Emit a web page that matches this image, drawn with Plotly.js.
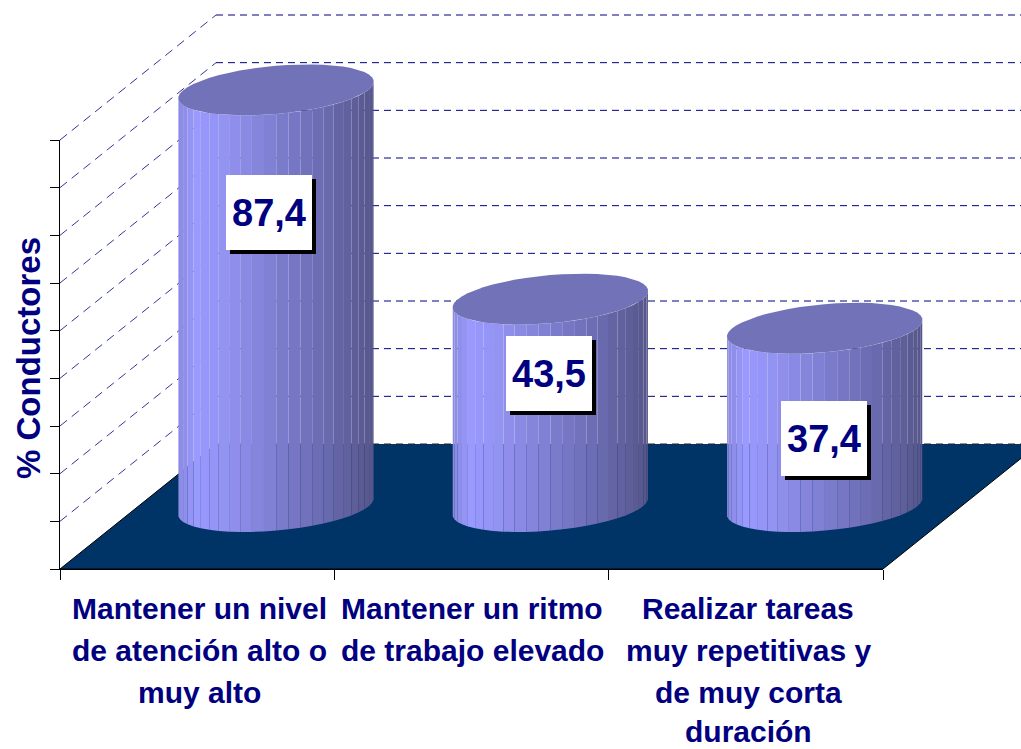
<!DOCTYPE html>
<html><head><meta charset="utf-8">
<script src="https://cdn.plot.ly/plotly-3.0.1.min.js"></script>
<style>html,body{margin:0;padding:0;background:#fff}#chart{width:1021px;height:749px}</style>
</head><body><div id="chart"></div>
<script>
// ---- data ----
const categoryPositions = [0, 1, 2];
const categoryLines = [
  ["Mantener un nivel", "de atención alto o", "muy alto"],
  ["Mantener un ritmo", "de trabajo elevado"],
  ["Realizar tareas", "muy repetitivas y", "de muy corta", "duración"]
];
const values = [87.4, 43.5, 37.4];
const valueLabels = ["87,4", "43,5", "37,4"];
const yTicks = [0, 10, 20, 30, 40, 50, 60, 70, 80, 90];
const yTitle = "% Conductores";

// ---- layout constants (pixels of the figure) ----
const W = 1021, H = 749;
const left = 60, right = 883, base = 569, top90 = 140;
const catW = (right - left) / 3, unit = (base - top90) / 90;
const DX = 156 / catW, DY = 125 / unit;      // oblique depth vector in axis units
const RX = 0.337, RD = 0.204, FACETS = 50, PHASE = 0.02, CX_SHIFT = 0.003;
const NAVY = "#000080";
const labelBoxes = [[269, 212.5], [549, 373.5], [824, 438.5]]; // label centres, px
const boxW = 86, boxH = 75, shadow = 4;
const lineYs = [608, 650.5, 692.5, 731];
const labelXs = [199, 472, 748];

const xOf = p => (p - left) / catW - 0.5;
const yOf = p => (base - p) / unit;
const project = (x, v, d) => [x + d * DX, v + d * DY];

const traces = [];
function poly(pts, color) {
  traces.push({x: pts.map(p => p[0]), y: pts.map(p => p[1]), mode: "lines", fill: "toself",
    fillcolor: color, line: {width: 0, color: color}, hoverinfo: "skip", showlegend: false});
}
function seg(a, b, color, width, dash) {
  traces.push({x: [a[0], b[0]], y: [a[1], b[1]], mode: "lines",
    line: {color, width, dash: dash || "solid"}, hoverinfo: "skip", showlegend: false});
}

// side wall and back wall grid
yTicks.forEach(v => {
  if (v === 0) return;
  seg(project(-0.5, v, 0), project(-0.5, v, 1), NAVY, 0.8, "9px,6px");
  seg(project(-0.5, v, 1), project(2.5, v, 1), NAVY, 1, "7px,5px");
});
// floor
poly([project(-0.5,0,0), project(2.5,0,0), project(2.5,0,1), project(-0.5,0,1), project(-0.5,0,0)], "#003366");
seg(project(-0.5,0,1), project(2.5,0,1), "#222222", 1, "7px,5px");
seg(project(-0.5,0,0), project(-0.5,0,1), "#000000", 1);
seg(project(2.5,0,0), project(2.5,0,1), "#000000", 1);
seg(project(-0.5,0,0), project(2.5,0,0), "#000000", 1);

// cylinder shading
const stops = [[0,[138,138,224]],[0.1,[153,153,255]],[0.25,[146,146,240]],[0.5,[126,126,208]],[0.75,[106,106,176]],[1,[86,86,138]]];
function shade(u) {
  for (let i = 1; i < stops.length; i++) if (u <= stops[i][0]) {
    const a = stops[i-1], b = stops[i], f = (u - a[0]) / (b[0] - a[0]);
    return "rgb(" + a[1].map((c, j) => Math.round(c + f * (b[1][j] - c))).join(",") + ")";
  }
  return "rgb(86,86,138)";
}
function rim(i, v, t) { return project(i + CX_SHIFT + RX * Math.cos(t), v, 0.5 + RD * Math.sin(t)); }
const halfSpan = Math.hypot(RX, RD * DX);

values.forEach((v, i) => {
  const cx = project(i + CX_SHIFT, 0, 0.5)[0];
  for (let k = 0; k < FACETS; k++) {
    const t0 = PHASE + k * 2 * Math.PI / FACETS, t1 = PHASE + (k + 1) * 2 * Math.PI / FACETS;
    const a = rim(i, 0, t0), b = rim(i, 0, t1);
    if (b[0] <= a[0]) continue;                 // back-facing facet
    const c = rim(i, v, t1), d = rim(i, v, t0);
    const u = ((a[0] + b[0]) / 2 - cx + halfSpan) / (2 * halfSpan);
    poly([a, b, c, d, a], shade(u));
  }
  const cap = [];
  for (let k = 0; k <= FACETS; k++) cap.push(rim(i, v, PHASE + k * 2 * Math.PI / FACETS));
  poly(cap, "#7272b8");
});

// real axes carrying the series (markers invisible; the cylinders draw it)
traces.push({x: categoryPositions, y: values, xaxis: "x2", yaxis: "y2", mode: "markers",
  marker: {size: 1, opacity: 0}, hoverinfo: "skip", showlegend: false});

// annotations: labels
const annotations = [];
const font = size => ({family: "Liberation Sans, Arial, sans-serif", size, color: NAVY, weight: 700});
labelBoxes.forEach((c, i) => {
  annotations.push({x: xOf(c[0] + shadow), y: yOf(c[1] + shadow), xref: "x", yref: "y", text: " ", showarrow: false,
    width: boxW, height: boxH, bgcolor: "#000000", borderpad: 0, borderwidth: 0, font: font(10)});
  annotations.push({x: xOf(c[0]), y: yOf(c[1]), xref: "x", yref: "y", text: "<b>" + valueLabels[i] + "</b>", showarrow: false,
    width: boxW, height: boxH, bgcolor: "#ffffff", borderpad: 0, borderwidth: 0, valign: "middle", font: font(38)});
});
categoryLines.forEach((lines, i) => lines.forEach((s, j) => {
  annotations.push({x: labelXs[i] / W, y: 1 - lineYs[j] / H, xref: "paper", yref: "paper", text: "<b>" + s + "</b>",
    showarrow: false, xanchor: "center", yanchor: "middle", font: font(30), borderpad: 0});
}));
annotations.push({x: 29 / W, y: 1 - 358 / H, xref: "paper", yref: "paper", text: "<b>" + yTitle + "</b>",
  textangle: -90, showarrow: false, xanchor: "center", yanchor: "middle", font: font(33), borderpad: 0});

const layout = {
  width: W, height: H, margin: {l: 0, r: 0, t: 0, b: 0}, showlegend: false,
  paper_bgcolor: "#ffffff", plot_bgcolor: "rgba(0,0,0,0)", hovermode: false,
  xaxis: {domain: [0, 1], range: [xOf(0), xOf(W)], visible: false, fixedrange: true},
  yaxis: {domain: [0, 1], range: [yOf(H), yOf(0)], visible: false, fixedrange: true},
  xaxis2: {domain: [left / W, right / W], range: [-0.5, 2.5], anchor: "y2", tickvals: categoryPositions,
    ticktext: categoryPositions.map(() => ""), ticks: "", showgrid: false, zeroline: false, showline: true,
    linecolor: "#000000", linewidth: 1, fixedrange: true,
    minor: {tickvals: [-0.5, 0.5, 1.5, 2.5], ticks: "outside", ticklen: 10, tickwidth: 1, tickcolor: "#000000", showgrid: false}},
  yaxis2: {domain: [1 - base / H, 1 - top90 / H], range: [0, 90], anchor: "x2", tickvals: yTicks,
    ticktext: yTicks.map(() => ""), ticks: "outside", ticklen: 9, tickwidth: 1, tickcolor: "#000000",
    showgrid: false, zeroline: false, showline: true, linecolor: "#000000", linewidth: 1, fixedrange: true},
  annotations
};
Plotly.newPlot("chart", traces, layout, {displayModeBar: false, staticPlot: true});
</script></body></html>
